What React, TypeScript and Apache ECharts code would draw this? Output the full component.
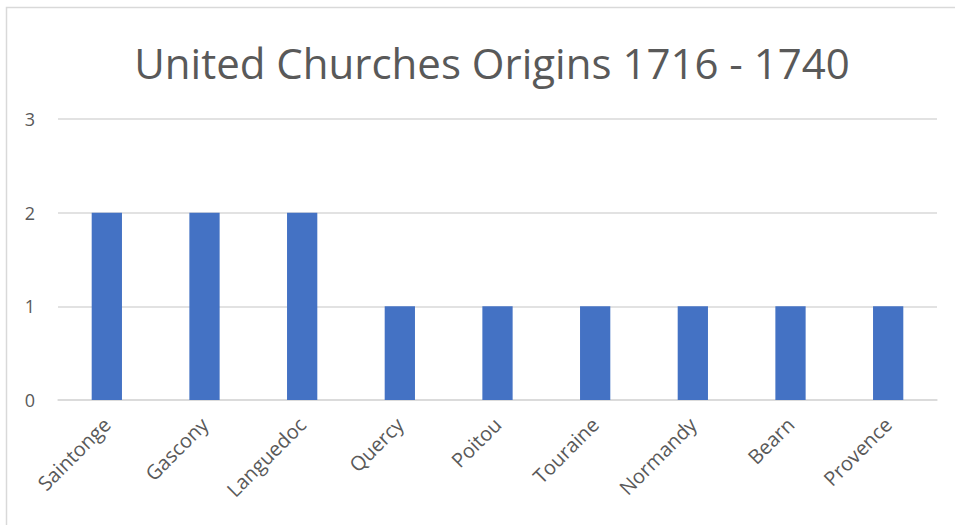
import React, { useEffect, useRef } from "react";
import * as echarts from "echarts";

const titleText = "United Churches Origins 1716 - 1740";
const categories = [
  "Saintonge",
  "Gascony",
  "Languedoc",
  "Quercy",
  "Poitou",
  "Touraine",
  "Normandy",
  "Bearn",
  "Provence",
];
const values = [2, 2, 2, 1, 1, 1, 1, 1, 1];
const yTicks = { min: 0, max: 3, interval: 1 };

export default function App() {
  const ref = useRef<HTMLDivElement>(null);
  useEffect(() => {
    if (!ref.current) return;
    const chart = echarts.init(ref.current, undefined, { renderer: "svg" });
    chart.setOption({
      animation: false,
      backgroundColor: "#ffffff",
      title: {
        text: titleText,
        left: 487,
        top: 36,
        textAlign: "center",
        textStyle: {
          fontFamily: "Open Sans",
          fontWeight: "normal",
          fontSize: 42,
          color: "#595959",
        },
      },
      graphic: [
        {
          type: "rect",
          shape: { x: 6.5, y: 7.5, width: 960, height: 530 },
          style: { fill: "none", stroke: "#d9d9d9", lineWidth: 1.5 },
          silent: true,
        },
      ],
      grid: { left: 58, right: 18, top: 119, bottom: 125, containLabel: false },
      xAxis: {
        type: "category",
        data: categories,
        axisLine: { lineStyle: { color: "#d9d9d9", width: 1.5 } },
        axisTick: { show: false },
        axisLabel: {
          rotate: 45,
          fontFamily: "Open Sans",
          fontSize: 20,
          color: "#595959",
          margin: 21,
        },
      },
      yAxis: {
        type: "value",
        min: yTicks.min,
        max: yTicks.max,
        interval: yTicks.interval,
        axisLine: { show: false },
        axisTick: { show: false },
        splitLine: { lineStyle: { color: "#d9d9d9", width: 1.5 } },
        axisLabel: {
          fontFamily: "Open Sans",
          fontSize: 18,
          color: "#595959",
          margin: 23,
        },
      },
      series: [
        {
          type: "bar",
          data: values,
          barWidth: "31%",
          itemStyle: { color: "#4472C4" },
        },
      ],
    });
    return () => chart.dispose();
  }, []);
  return (
    <div
      ref={ref}
      style={{ position: "absolute", left: 0, top: 0, width: 955, height: 525 }}
    />
  );
}
